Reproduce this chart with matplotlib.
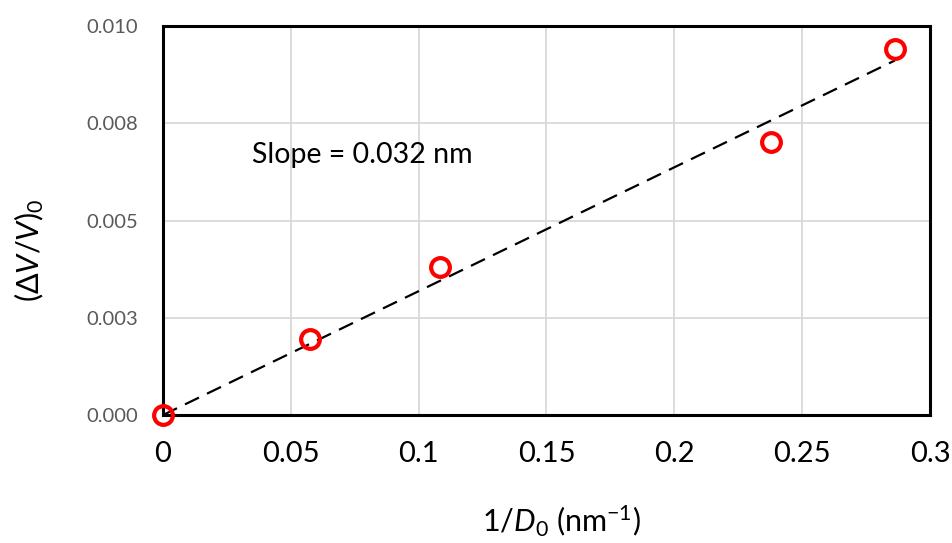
import numpy as np
import matplotlib.pyplot as plt
from matplotlib.ticker import FixedLocator, FixedFormatter

inv_d0 = [0.0, 0.0575, 0.1083, 0.238, 0.2863]
dv_v = [0.0, 0.00195, 0.00381, 0.00703, 0.00941]

x_ticks = [0, 0.05, 0.1, 0.15, 0.2, 0.25, 0.3]
x_tick_labels = ["0", "0.05", "0.1", "0.15", "0.2", "0.25", "0.3"]
y_ticks = [0, 0.0025, 0.005, 0.0075, 0.01]
y_tick_labels = ["0.000", "0.003", "0.005", "0.008", "0.010"]

plt.rcParams['font.family'] = ['Lato', 'DejaVu Sans']
plt.rcParams['mathtext.fontset'] = 'custom'
plt.rcParams['mathtext.rm'] = 'Lato'
plt.rcParams['mathtext.it'] = 'Lato:italic'


def main():
    x = np.array(inv_d0)
    y = np.array(dv_v)
    # linear fit forced through the origin
    slope = np.sum(x * y) / np.sum(x * x)

    fig = plt.figure(figsize=(9.52, 5.43), dpi=100)
    ax = fig.add_axes([0.1712, 0.2357, 0.8057, 0.7164])

    xf = np.array([0, x.max()])
    ax.plot(xf, slope * xf, color='black', lw=1.6, ls=(0, (7, 4)), zorder=2)
    ax.plot(x, y, ls='none', marker='o', ms=13.5, mfc='none', mec='#ff0000',
            mew=3.0, zorder=3, clip_on=False)

    ax.set_xlim(0, 0.3)
    ax.set_ylim(0, 0.01)
    ax.xaxis.set_major_locator(FixedLocator(x_ticks))
    ax.xaxis.set_major_formatter(FixedFormatter(x_tick_labels))
    ax.yaxis.set_major_locator(FixedLocator(y_ticks))
    ax.yaxis.set_major_formatter(FixedFormatter(y_tick_labels))
    ax.tick_params(axis='x', length=0, pad=19, labelsize=21, labelcolor='black')
    ax.tick_params(axis='y', length=0, pad=18, labelsize=14.5, labelcolor='#595959')

    ax.grid(True, color='#d9d9d9', lw=1.3)
    ax.set_axisbelow(True)
    for s in ax.spines.values():
        s.set_linewidth(2.2)
        s.set_color('black')

    ax.text(0.0348, 0.00668, "Slope = 0.%03d nm" % round(slope * 1000), fontsize=20.5,
            ha='left', va='center')

    fig.text(0.59, 0.039, r"1/$D_{\mathit{0}}$ (nm$^{-1}$)", fontsize=22,
             ha='center', va='center')
    fig.text(0.031, 0.538, r"($\mathit{\Delta V/V}$)$_0$", fontsize=22, rotation=90,
             ha='center', va='center')

    fig.savefig("out.png", dpi=100)


if __name__ == "__main__":
    main()
